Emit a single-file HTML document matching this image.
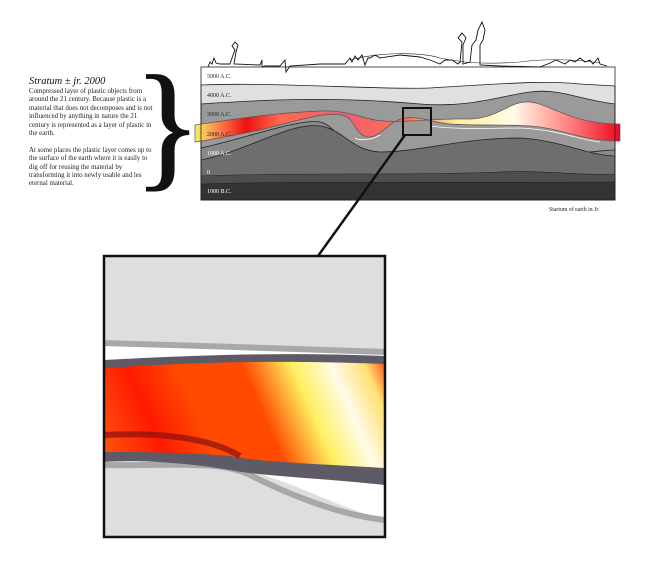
<!DOCTYPE html>
<html><head><meta charset="utf-8"><style>
body{margin:0;background:#fff;width:655px;height:579px;overflow:hidden;font-family:"Liberation Serif",serif;}
.t{position:absolute;left:29px;top:76px;width:124px;font-size:6.9px;line-height:8.4px;color:#222;}
.t h1{font-size:10.5px;font-style:italic;font-weight:normal;margin:0 0 1px 0;line-height:11px;color:#111;}
</style></head><body>
<div class="t"><h1>Stratum ± jr. 2000</h1>Compressed layer of plastic objects from around the 21 century. Because plastic is a material that does not decomposes and is not influenced by anything in nature the 21 century is represented as a layer of plastic in the earth.<br><br>At some places the plastic layer comes up to the surface of the earth where it is easily to dig off for reusing the material by transforming it into newly usable and les eternal material.</div>
<svg width="655" height="579" style="position:absolute;left:0;top:0">
<defs>
<linearGradient id="pg" x1="195" y1="0" x2="620" y2="0" gradientUnits="userSpaceOnUse">
<stop offset="0" stop-color="#f5f060"/><stop offset="0.05" stop-color="#ff8a50"/><stop offset="0.12" stop-color="#ee1010"/><stop offset="0.2" stop-color="#ff6a50"/><stop offset="0.35" stop-color="#f06070"/><stop offset="0.5" stop-color="#ff7050"/><stop offset="0.62" stop-color="#fff0a0"/><stop offset="0.75" stop-color="#fffbe8"/><stop offset="0.88" stop-color="#ff8080"/><stop offset="1" stop-color="#ee0a20"/></linearGradient>
<linearGradient id="zg" x1="105" y1="470" x2="385" y2="350" gradientUnits="userSpaceOnUse">
<stop offset="0" stop-color="#ff5a10"/><stop offset="0.2" stop-color="#ff1a00"/><stop offset="0.35" stop-color="#ff4a00"/><stop offset="0.55" stop-color="#ff4a00"/><stop offset="0.7" stop-color="#fff060"/><stop offset="0.82" stop-color="#fffbe8"/><stop offset="0.92" stop-color="#ffe070"/><stop offset="1" stop-color="#ff3000"/></linearGradient>
</defs>
<rect x="201" y="67" width="414" height="133" fill="#fff"/>
<path d="M201 85 C280 82 380 90 430 88 C500 84 540 80 580 84 L615 86 L615 200 L201 200Z" fill="#e0e0e0" stroke="#222" stroke-width="0.8"/>
<path d="M201 104 C260 100 330 96 420 104 C470 108 500 96 530 92 C560 88 580 100 615 104 L615 200 L201 200Z" fill="#9a9a9a" stroke="#222" stroke-width="0.8"/>
<path d="M201 148 C240 140 300 118 320 122 C335 125 340 145 360 150 C380 156 400 150 430 155 C470 162 520 150 560 152 C590 154 600 150 615 150 L615 200 L201 200Z" fill="#8a8a8a" stroke="#222" stroke-width="0.8"/>
<path d="M201 160 C250 150 290 122 320 126 C345 130 350 150 380 152 C420 152 460 138 520 138 C560 140 590 156 615 156 L615 200 L201 200Z" fill="#6e6e6e" stroke="#222" stroke-width="0.8"/>
<path d="M201 176 C300 172 400 176 500 172 C550 170 580 176 615 174 L615 200 L201 200Z" fill="#4e4e4e" stroke="#222" stroke-width="0.6"/>
<path d="M201 184 C300 181 400 183 615 182 L615 200 L201 200Z" fill="#333" stroke="#222" stroke-width="0.6"/>
<path d="M195 125 C230 120 270 113 320 111 C345 110 355 116 375 120 C400 124 430 118 470 119 C500 118 510 100 530 102 C550 104 570 123 615 124 L620 124 L620 141 L615 141 C580 140 560 128 530 126 C500 124 480 126 450 124 C430 122 420 116 405 118 C390 120 380 138 368 137 C356 136 355 120 345 116 C330 110 300 120 260 130 C230 136 210 140 195 142Z" fill="url(#pg)" stroke="#555" stroke-width="0.7"/>
<path d="M355 138 C360 141 372 140 380 135" fill="none" stroke="#fff" stroke-width="0.8"/>
<path d="M430 126 C460 130 490 128 520 128 C560 130 580 140 600 142" fill="none" stroke="#fff" stroke-width="0.8"/>
<rect x="201" y="67" width="414" height="133" fill="none" stroke="#222" stroke-width="0.8"/>
<path d="M208 67 L210 62 L212 64 L214 58 L216 63 L220 64 L230 64 L232 58 L235 50 L232 46 L235 42 L238 45 L236 52 L234 64 L260 65 L262 60 L262 67 L265 66 L280 66 L285 60 L286 72 L290 66 L320 64 L345 64 L350 58 L352 62 L355 56 L358 60 L362 55 L365 65 L368 58 L370 58 L375 55 L380 58 L400 55 L420 57 L430 60 L440 64 L445 60 L452 60 L458 64 L460 62 L462 42 L458 38 L462 33 L466 38 L463 45 L463 64 L470 62 L472 45 L476 40 L478 30 L482 22 L485 30 L483 40 L480 45 L480 65 L500 66 L540 67 L550 63 L556 60 L565 64 L570 60 L575 62 L580 58 L585 62 L590 60 L593 64 L598 58 L600 64 L607 66" fill="none" stroke="#111" stroke-width="0.9"/>
<path d="M350 60 C380 52 420 52 440 58 C460 62 480 65 520 62 C550 58 580 60 600 63" fill="none" stroke="#222" stroke-width="0.6"/>
<g font-family="Liberation Serif,serif" font-size="6px" fill="#fff">
<text x="207" y="78" fill="#222">5000 A.C.</text>
<text x="207" y="97" fill="#222">4000 A.C.</text>
<text x="207" y="116" fill="#222">3000 A.C.</text>
<text x="207" y="136" fill="#222">2000 A.C.</text>
<text x="207" y="155">1000 A.C.</text>
<text x="207" y="174">0</text>
<text x="207" y="193">1000 B.C.</text>
<text x="549" y="211" fill="#222" font-size="5.8px">Startum of earth in Jr.</text>
</g>
<text x="134" y="172" font-family="Liberation Serif,serif" font-size="140px" fill="#111" stroke="#111" stroke-width="1.5">}</text>
<rect x="403" y="108" width="28" height="27" fill="none" stroke="#111" stroke-width="2"/>
<line x1="405" y1="135" x2="318" y2="256" stroke="#111" stroke-width="2.5"/>
<rect x="104" y="256" width="281" height="281" fill="#dedede"/>
<path d="M104 343 C200 346 280 348 385 352 L385 520 C330 505 270 470 230 468 C180 466 140 464 104 462Z" fill="#fff"/>
<path d="M104 343 C200 346 280 348 385 352" fill="none" stroke="#a8a8a8" stroke-width="6"/>
<path d="M104 465 C170 466 220 460 250 475 C290 495 340 515 385 520" fill="none" stroke="#a8a8a8" stroke-width="6"/>
<path d="M104 360 C200 355 280 352 385 356 L385 485 C320 478 260 476 230 470 C180 462 140 460 104 462Z" fill="#5e5a66"/>
<path d="M104 368 C200 362 280 360 385 364 L385 468 C320 464 260 462 230 456 C180 452 140 452 104 452Z" fill="url(#zg)"/>
<path d="M104 435 C160 432 210 438 240 456" fill="none" stroke="#8a1010" stroke-width="6" opacity="0.7"/>
<rect x="104" y="256" width="281" height="281" fill="none" stroke="#111" stroke-width="2.5"/>
</svg>
</body></html>
